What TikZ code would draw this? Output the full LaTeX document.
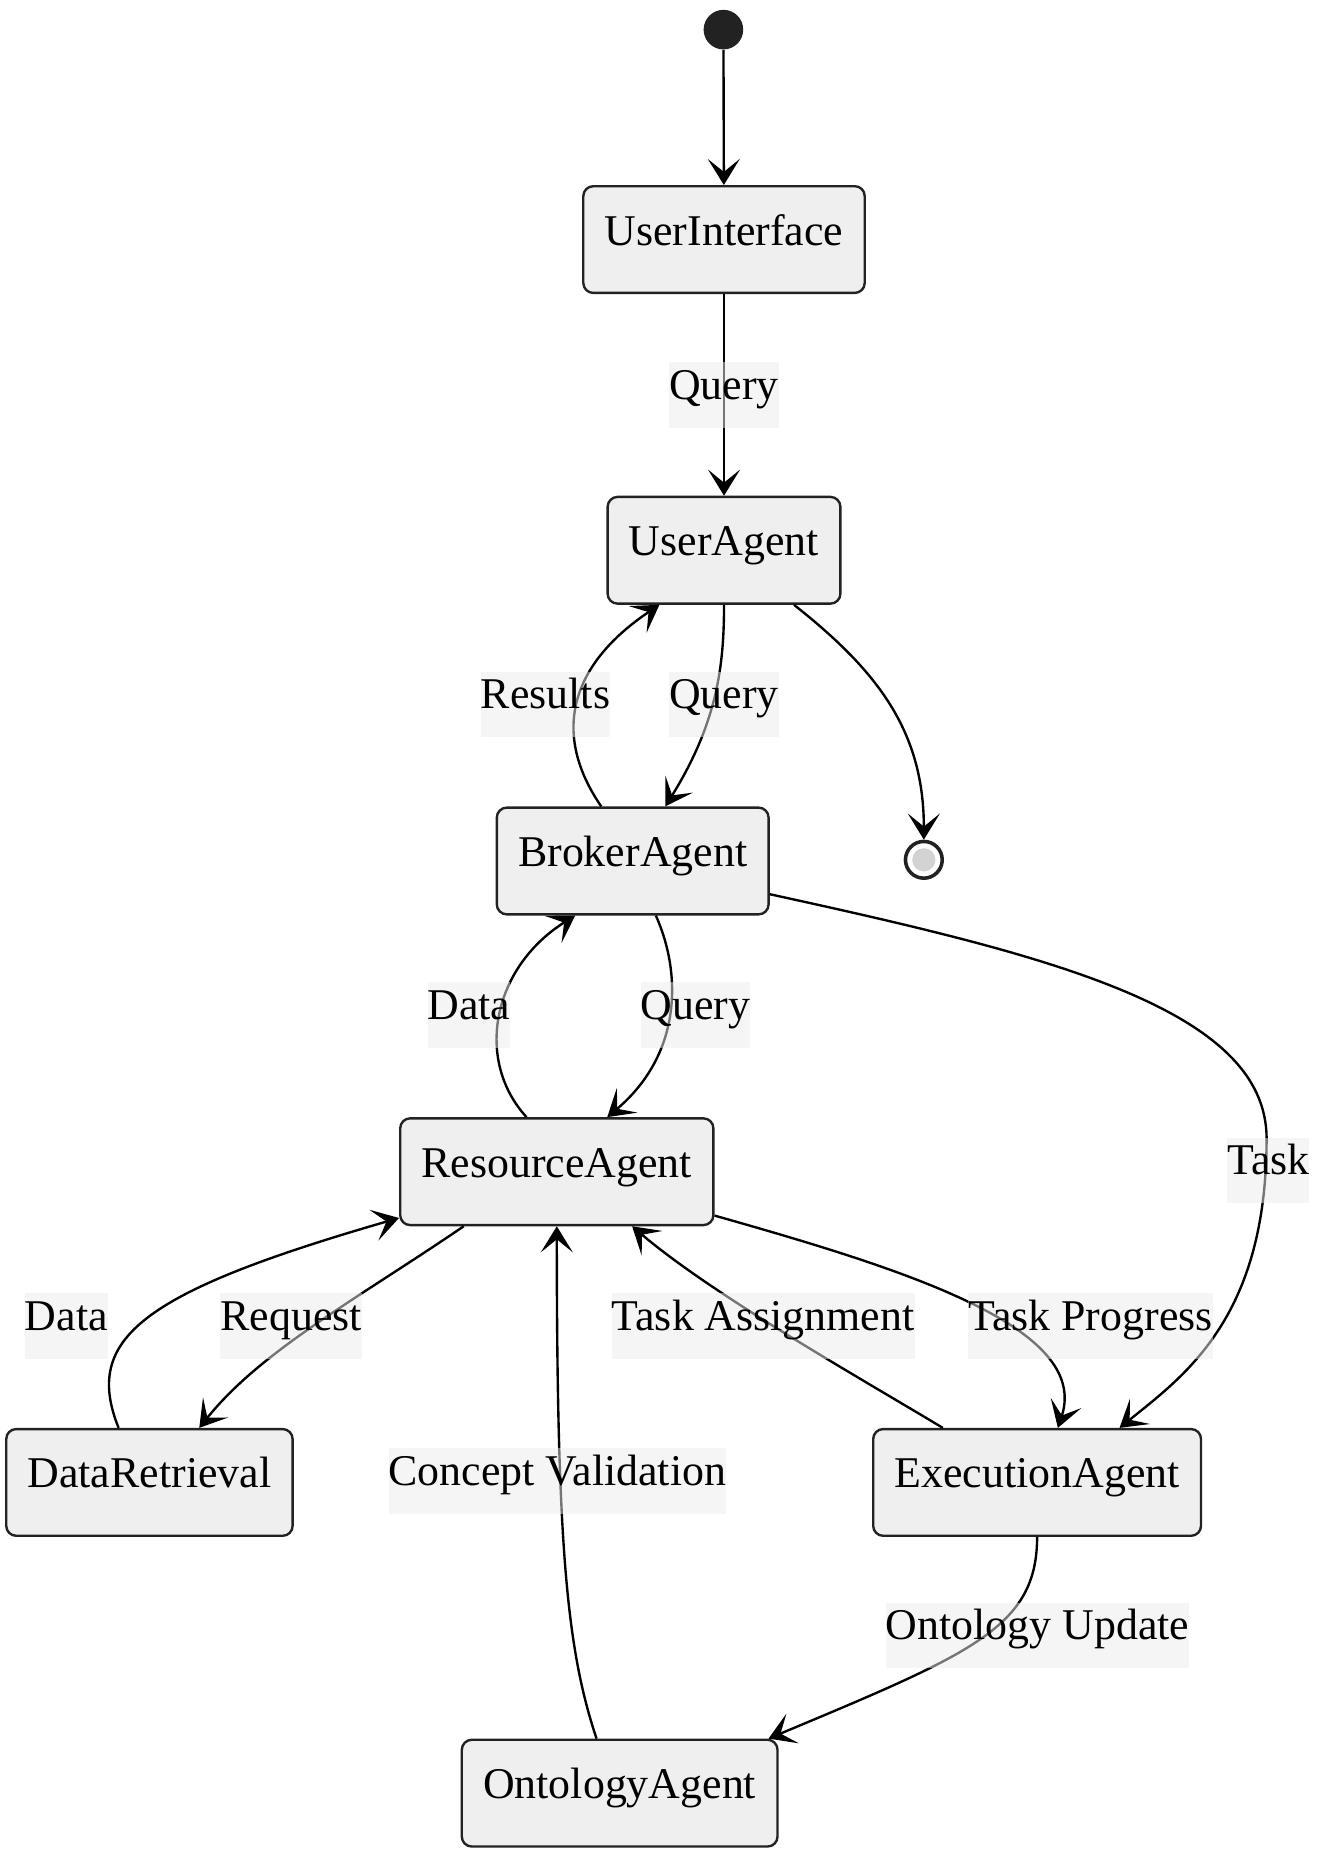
\documentclass[tikz,border=0pt]{standalone}
\usepackage{fontspec}
\setmainfont{Liberation Serif}
\usetikzlibrary{arrows.meta, calc}

\definecolor{statefill}{HTML}{EFEFEF}
\definecolor{labelfill}{HTML}{EBEBEB}
\definecolor{dotfill}{HTML}{222222}
\definecolor{stopfill}{HTML}{D3D3D3}

\begin{document}
\begin{tikzpicture}[x=0.5pt, y=-0.5pt, font=\fontsize{18.5}{22}\selectfont,
  agent/.style={draw=dotfill, fill=statefill, rounded corners=4.2pt, line width=1pt, minimum height=45pt, inner xsep=9pt, inner ysep=0pt, text height=13pt, text depth=8.4pt},
  msg/.style={fill=labelfill, fill opacity=0.5, text opacity=1, inner sep=0pt, text height=15.7pt, text depth=12pt},
  flow/.style={line width=1pt, -{Stealth[length=11pt, width=13.5pt, inset=5.5pt]}}]
\useasboundingbox (0, 0) rectangle (1111.3, 1566.7);

\node[circle, fill=dotfill, minimum size=16.7pt, inner sep=0pt] (start) at (610, 25) {};
\node[circle, draw=dotfill, line width=1.5pt, fill=white, minimum size=15.5pt, inner sep=0pt] (stop) at (779, 725) {};
\fill[stopfill] (stop) circle[radius=4.9pt];

\node[agent] (ui) at (610.5, 202) {UserInterface};
\node[agent] (ua) at (610.5, 464) {UserAgent};
\node[agent] (broker) at (533.5, 726) {BrokerAgent};
\node[agent] (resource) at (469.5, 988) {ResourceAgent};
\node[agent] (retrieval) at (126, 1250) {DataRetrieval};
\node[agent] (execution) at (874.5, 1250) {ExecutionAgent};
\node[agent] (ontology) at (522.5, 1512) {OntologyAgent};
\coordinate (taskbend) at (1068, 960);

\draw[flow] (start) -- (ui);
\draw[flow] (ui) -- (ua);
\draw[flow] (ua.south) .. controls +(0, 51) and +(44, -71) .. ($(broker.north)+(27.5, 0)$);
\draw[flow] ($(broker.north)+(-26.5, 0)$) .. controls +(-42, -61) and +(-76, 51) .. ($(ua.south)+(-54.5, 0)$);
\draw[flow] ($(ua.south)+(59, 0)$) .. controls +(71, 56) and +(0, -91) .. (stop.north);
\draw[flow] ($(broker.south)+(19.5, 0)$) .. controls +(22, 49) and +(63, -53) .. ($(resource.north)+(42.5, 0)$);
\draw[flow] ($(resource.north)+(-25.5, 0)$) .. controls +(-44, -48) and +(-70, 44) .. ($(broker.south)+(-48.5, 0)$);
\draw[flow] ($(broker.east)+(0, 28)$) .. controls +(233, 51) and +(0, -110) .. (taskbend) .. controls +(0, 150) and +(56, -45) .. ($(execution.north)+(69.5, 0)$);
\draw[flow] ($(resource.south)+(-78.5, 0)$) .. controls +(-91, 62) and +(52, -65) .. ($(retrieval.north)+(42, 0)$);
\draw[flow] ($(retrieval.north)+(-26, 0)$) .. controls +(-30, -75) and +(-218, 63) .. ($(resource.west)+(0, 39)$);
\draw[flow] ($(resource.east)+(0, 37)$) .. controls +(159, 45) and +(28, -85) .. ($(execution.north)+(17.5, 0)$);
\draw[flow] ($(execution.north)+(-79.5, 0)$) .. controls +(-75, -45) and +(67, 57) .. ($(resource.south)+(63.5, 0)$);
\draw[flow] ($(ontology.north)+(-19.5, 0)$) .. controls +(-25, -75) and +(0, 270) .. (resource.south);
\draw[flow] (execution.south) .. controls +(0, 76) and +(172, -72) .. ($(ontology.north)+(125.5, 0)$);

\node[msg] (qui) at (610.5, 333) {Query};
\node[msg] (results) at (460, 594) {Results};
\node[msg] (qua) at (610.5, 594) {Query};
\node[msg] (dbroker) at (395.5, 856) {Data};
\node[msg] (qbroker) at (586.5, 856) {Query};
\node[msg] (task) at (1069.5, 987) {Task};
\node[msg] (dret) at (56, 1118) {Data};
\node[msg] (request) at (245.5, 1118) {Request};
\node[msg] (assign) at (643.5, 1118) {Task Assignment};
\node[msg] (progress) at (919.5, 1118) {Task Progress};
\node[msg] (concept) at (470, 1249) {Concept Validation};
\node[msg] (update) at (875, 1379) {Ontology Update};
\end{tikzpicture}
\end{document}
